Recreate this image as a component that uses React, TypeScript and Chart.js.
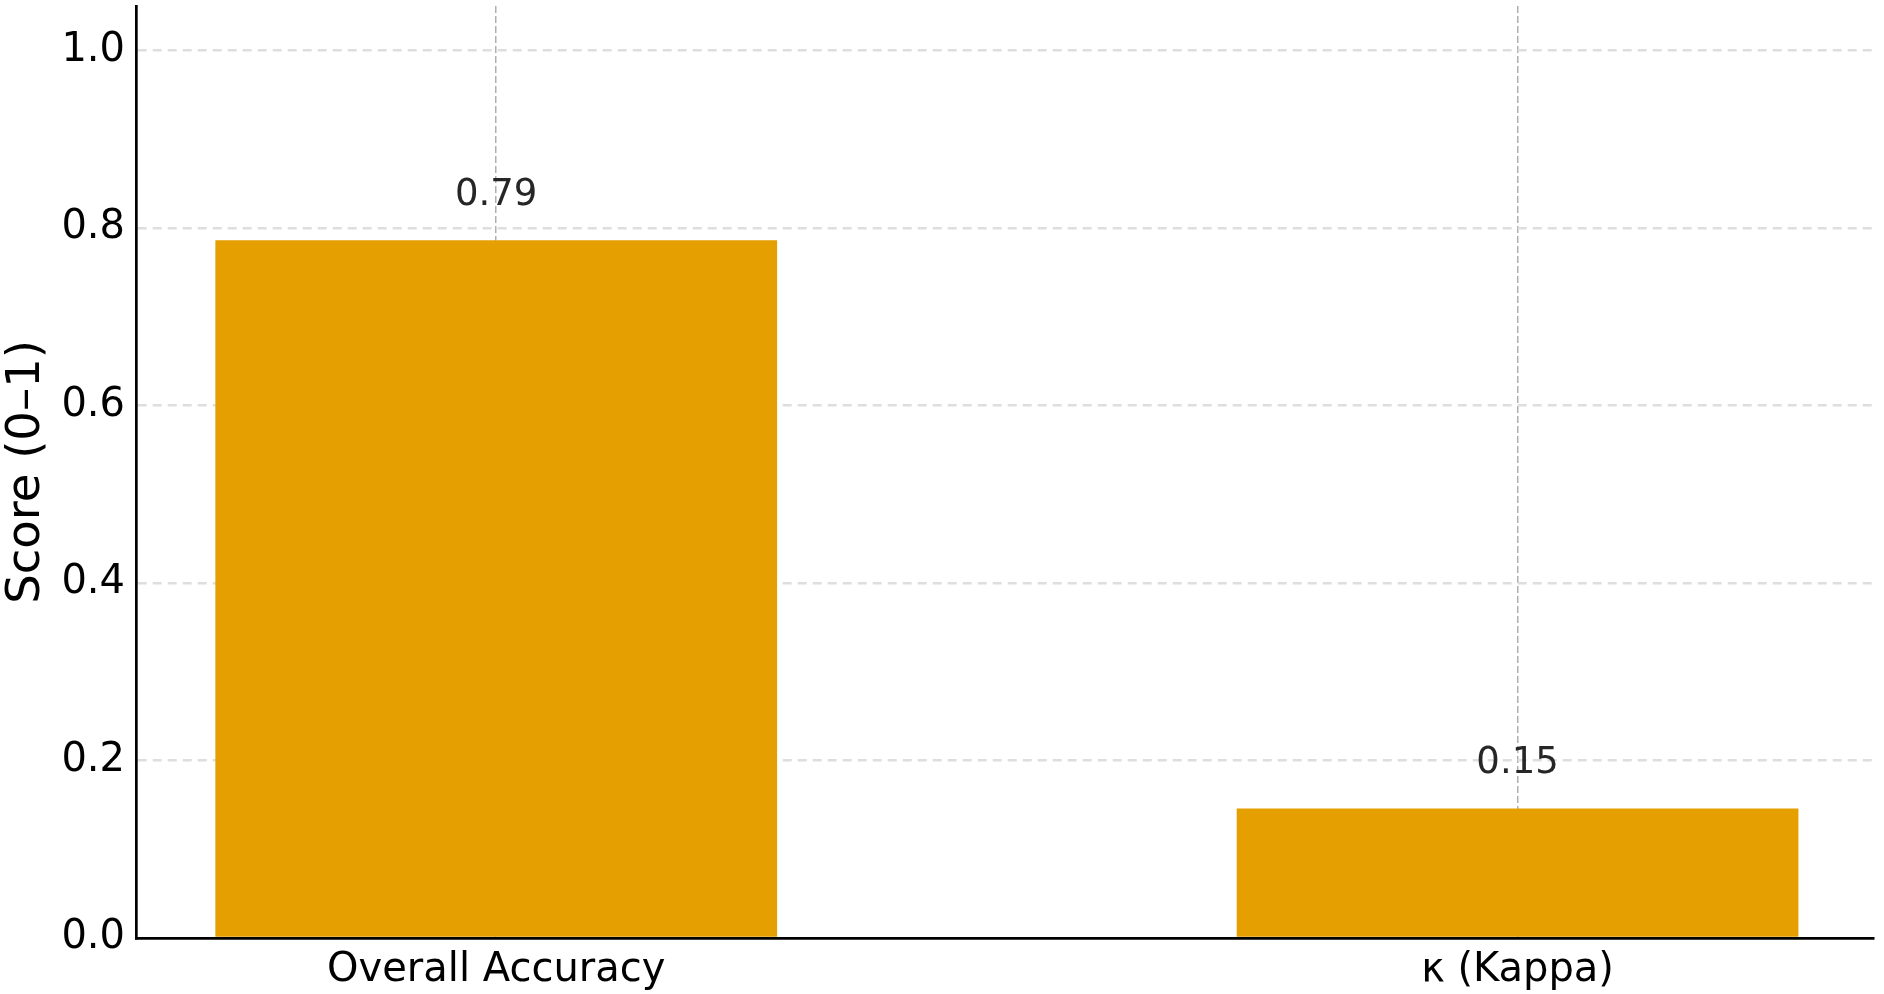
import React, { useEffect, useRef } from 'react';
import { Chart, registerables } from 'chart.js';

Chart.register(...registerables);

const CATEGORIES = ['Overall Accuracy', 'κ (Kappa)'];
const SCORES = [0.786, 0.146];
const X_POSITIONS = [0, 1];
const Y_TICKS = [0, 0.2, 0.4, 0.6, 0.8, 1.0];
const Y_TITLE = 'Score (0–1)';

const FONT = '"DejaVu Sans"';

export default function App() {
  const ref = useRef<HTMLCanvasElement>(null);

  useEffect(() => {
    if (!ref.current) return;
    const valueLabels = {
      id: 'valueLabels',
      afterDatasetsDraw(chart: any) {
        const ctx = chart.ctx;
        const meta = chart.getDatasetMeta(0);
        ctx.save();
        ctx.font = `37px ${FONT}`;
        ctx.fillStyle = '#262626';
        ctx.textAlign = 'center';
        ctx.textBaseline = 'alphabetic';
        meta.data.forEach((bar: any, i: number) => {
          ctx.fillText(SCORES[i].toFixed(2), bar.x, bar.y - 35.5);
        });
        ctx.restore();
      },
    };

    const chart = new Chart(ref.current, {
      type: 'bar',
      data: {
        datasets: [
          {
            data: SCORES.map((v, i) => ({ x: X_POSITIONS[i], y: v })),
            backgroundColor: '#E69F00',
            borderWidth: 0,
            barPercentage: 0.55,
            categoryPercentage: 1,
          },
        ],
      },
      options: {
        responsive: true,
        maintainAspectRatio: false,
        animation: false,
        layout: { padding: { top: 6, right: 10, left: 0, bottom: 0 } },
        plugins: {
          legend: { display: false },
          tooltip: { enabled: false },
        },
        scales: {
          x: {
            type: 'linear',
            min: -0.3527,
            max: 1.349,
            offset: false,
            afterBuildTicks: (s: any) => {
              s.ticks = X_POSITIONS.map((v) => ({ value: v }));
            },
            afterFit: (s: any) => {
              s.height = 56;
              s.paddingLeft = 0;
              s.paddingRight = 0;
            },
            ticks: {
              callback: (v: any) => CATEGORIES[X_POSITIONS.indexOf(Number(v))] ?? '',
              font: { family: FONT, size: 40 },
              color: '#000',
              padding: 9,
              maxRotation: 0,
              autoSkip: false,
            },
            grid: {
              offset: false,
              drawTicks: false,
              color: '#b0b0b0',
              lineWidth: 1.5,
            },
            border: { display: true, color: '#000', width: 2.7, dash: [7, 3] },
          },
          y: {
            type: 'linear',
            min: 0,
            max: 1.05,
            afterBuildTicks: (s: any) => {
              s.ticks = Y_TICKS.map((v) => ({ value: v }));
            },
            afterFit: (s: any) => {
              s.width = 136;
              s.paddingTop = 0;
              s.paddingBottom = 0;
            },
            ticks: {
              callback: (v: any) => Number(v).toFixed(1),
              font: { family: FONT, size: 40 },
              color: '#000',
              padding: 11,
            },
            grid: {
              drawTicks: false,
              color: (c: any) => (c.tick && c.tick.value === 0 ? 'rgba(0,0,0,0)' : '#dedede'),
              lineWidth: 2.5,
            },
            border: { display: true, color: '#000', width: 2.7, dash: [9, 6] },
            title: {
              display: true,
              text: Y_TITLE,
              font: { family: FONT, size: 46.5, lineHeight: 1.15 },
              color: '#000',
              padding: 0,
            },
          },
        },
      },
      plugins: [valueLabels],
    } as any);

    return () => chart.destroy();
  }, []);

  return (
    <div style={{ position: 'fixed', left: 0, top: 0, width: 1884, height: 994, background: '#fff' }}>
      <canvas ref={ref} />
    </div>
  );
}
